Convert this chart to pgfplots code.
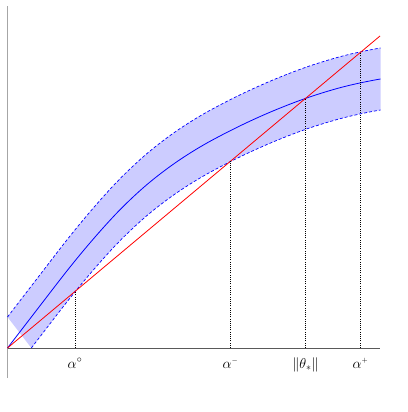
\documentclass[border=0pt]{standalone}
\usepackage{pgfplots}
\usepackage{pgfplotstable}
\pgfplotsset{compat=1.18}
\usepgfplotslibrary{fillbetween}
\pgfplotstableread{
x mid up lo
0 0 31 -31
10 13 44 -18
20 26 57 -5
23.85 31 62 0
30 39 70 8
40 52 83 21
50 65 96 34
60 77.8 108.8 46.8
70 90.2 121.2 59.2
80 102.2 133.2 71.2
90 113.8 144.8 82.8
100 125 156 94
110 135.7 166.7 104.7
120 145.7 176.7 114.7
130 155.1 186.1 124.1
140 163.9 194.9 132.9
150 172 203 141
160 179.6 210.6 148.6
170 186.7 217.7 155.7
180 193.3 224.3 162.3
190 199.5 230.5 168.5
200 205.3 236.3 174.3
210 210.7 241.7 179.7
220 215.9 246.9 184.9
230 220.9 251.9 189.9
240 225.7 256.7 194.7
250 230.3 261.3 199.3
260 234.7 265.7 203.7
270 238.9 269.9 207.9
280 242.9 273.9 211.9
290 246.7 277.7 215.7
300 250.3 281.3 219.3
310 253.6 284.6 222.6
320 256.7 287.7 225.7
330 259.6 290.6 228.6
340 262.2 293.2 231.2
350 264.5 295.5 233.5
360 266.6 297.6 235.6
370 268.5 299.5 237.5
373 269 300 238
}\band
\pgfplotstableread{
x y
0 0
372.5 312
}\redline
\begin{document}
\begin{tikzpicture}
\begin{axis}[x=1bp,y=1bp,anchor=origin,at={(0,0)},
  axis line style={draw=none}, ticks=none,
  xmin=-7.5,xmax=400.5,ymin=-64,ymax=348,clip=false]
\addplot[name path=up, draw=none, smooth] table[x=x,y=up] {\band};
\addplot[name path=lo, draw=none, smooth] table[x=x,y=lo] {\band};
\addplot[fill=blue!20, draw=none] fill between[of=up and lo, soft clip={(axis cs:-5,0) rectangle (axis cs:390,340)}];
\addplot[draw=black!35, line width=1.5pt] coordinates {(0,-30) (0,342)};
\addplot[draw=black!65, line width=0.9pt] coordinates {(0,0) (372.5,0)};
\addplot[blue, line width=0.7pt, dash pattern=on 3pt off 2pt, smooth] table[x=x,y=up] {\band};
\addplot[blue, line width=0.7pt, dash pattern=on 3pt off 2pt, smooth, restrict x to domain=23.8:400] table[x=x,y=lo] {\band};
\addplot[blue, line width=0.8pt, smooth] table[x=x,y=mid] {\band};
\addplot[red, line width=0.8pt] table[x=x,y=y] {\redline};
\addplot[black, line width=0.7pt, dash pattern=on 1pt off 1.2pt] coordinates {(67.5,0) (67.5,56.5)};
\addplot[black, line width=0.7pt, dash pattern=on 1pt off 1.2pt] coordinates {(223,0) (223,186.8)};
\addplot[black, line width=0.7pt, dash pattern=on 1pt off 1.2pt] coordinates {(298,0) (298,249.5)};
\addplot[black, line width=0.7pt, dash pattern=on 1pt off 1.2pt] coordinates {(353,0) (353,295.7)};
\node[anchor=base, font=\fontsize{14.4}{17}\selectfont] at (axis cs:67.5,-20) {$\alpha^\circ$};
\node[anchor=base, font=\fontsize{14.4}{17}\selectfont] at (axis cs:223,-20) {$\alpha^{\scriptscriptstyle -}$};
\node[anchor=base, font=\fontsize{14.4}{17}\selectfont] at (axis cs:298,-20) {$\|\theta_*\|$};
\node[anchor=base, font=\fontsize{14.4}{17}\selectfont] at (axis cs:353,-20) {$\alpha^{\scriptscriptstyle +}$};
\end{axis}
\end{tikzpicture}
\end{document}
